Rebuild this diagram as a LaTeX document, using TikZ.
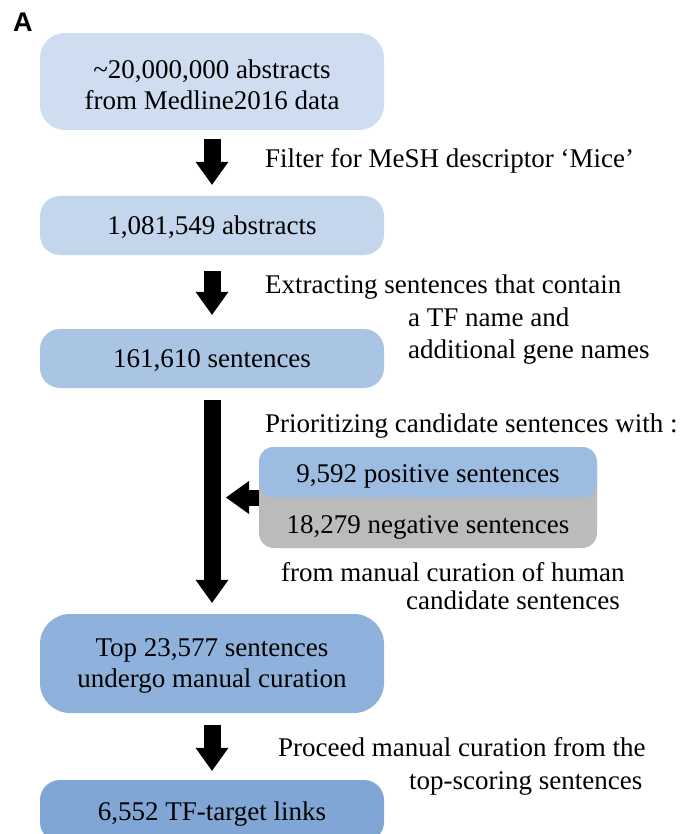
\documentclass[tikz,border=0pt]{standalone}
\usepackage{fontspec}
\setmainfont{Liberation Serif}
\newfontfamily\panelfont{Liberation Sans}
\usetikzlibrary{arrows.meta}
\definecolor{stageA}{RGB}{206,221,239}
\definecolor{stageB}{RGB}{195,214,236}
\definecolor{stageC}{RGB}{170,196,227}
\definecolor{stageD}{RGB}{142,178,219}
\definecolor{stageE}{RGB}{127,166,212}
\definecolor{posblue}{RGB}{157,188,225}
\definecolor{neggray}{RGB}{187,187,187}
\tikzset{every node/.style={align=center}}
\tikzstyle{stage} = [rounded corners=20pt, minimum width=344pt, inner sep=0pt, text depth=0pt, font=\fontsize{27}{31}\selectfont]
\tikzstyle{note} = [anchor=base west, inner sep=0pt, font=\fontsize{27}{33}\selectfont]
\tikzstyle{fat} = [line width=17pt, -{Triangle[width=33pt, length=23pt, line width=0pt]}]

\begin{document}
\begin{tikzpicture}[x=1pt, y=-1pt]
		% Frame
		\useasboundingbox (0,0) rectangle (689,834);
		\clip (0,0) rectangle (689,834);

		% Panel letter
		\node[anchor=base west, inner sep=0pt, font=\panelfont\bfseries\fontsize{27}{27}\selectfont] (panel) at (13,32) {A};

		% Stages
		\node[stage, fill=stageA, rounded corners=25pt, minimum height=97pt, text height=57pt] (abs) at (212,81.5) {\textasciitilde20,000,000 abstracts\\from Medline2016 data};
		\node[stage, fill=stageB, minimum height=59pt] (mice) at (212,225.5) {1,081,549 abstracts};
		\node[stage, fill=stageC, minimum height=59pt] (sent) at (212,358.5) {161,610 sentences};
		\node[stage, fill=stageD, rounded corners=30pt, minimum height=99pt] (top) at (212,663.5) {Top 23,577 sentences\\undergo manual curation};
		\node[stage, fill=stageE, minimum height=62pt] (links) at (212,811) {6,552 TF-target links};

		%% Training sentences
		\node[rounded corners=15pt, minimum width=338pt, minimum height=101pt, inner sep=0pt, fill=neggray,
			path picture={\fill[posblue] (path picture bounding box.north west) rectangle (path picture bounding box.east);}] (cand) at (428,497.5) {};
		\node[note, anchor=base] (pos) at (428,482) {9,592 positive sentences};
		\node[note, anchor=base] (neg) at (428,533) {18,279 negative sentences};
		\coordinate (join) at (226,497.5);

		% Arrows
		\draw[fat, shorten <=9pt, shorten >=11pt] (abs.south) -- (mice.north);
		\draw[fat, shorten <=16pt, shorten >=14pt] (mice.south) -- (sent.north);
		\draw[fat, shorten <=12pt, shorten >=11pt] (sent.south) -- (top.north);
		\draw[fat, shorten <=12pt, shorten >=9pt] (top.south) -- (links.north);
		\draw[fat, line width=16pt] (cand.west) -- (join);

		% Notes
		\node[note] (filt) at (265,168) {Filter for MeSH descriptor `Mice'};
		\node[note] (extr1) at (265,293) {Extracting sentences that contain};
		\node[note] (extr2) at (408,326) {a TF name and};
		\node[note] (extr3) at (408,358) {additional gene names};
		\node[note] (prio) at (265,432) {Prioritizing candidate sentences with :};
		\node[note] (hum1) at (281,581) {from manual curation of human};
		\node[note] (hum2) at (406,609) {candidate sentences};
		\node[note] (proc1) at (278,756) {Proceed manual curation from the};
		\node[note] (proc2) at (409,789) {top-scoring sentences};
	\end{tikzpicture}
\end{document}
